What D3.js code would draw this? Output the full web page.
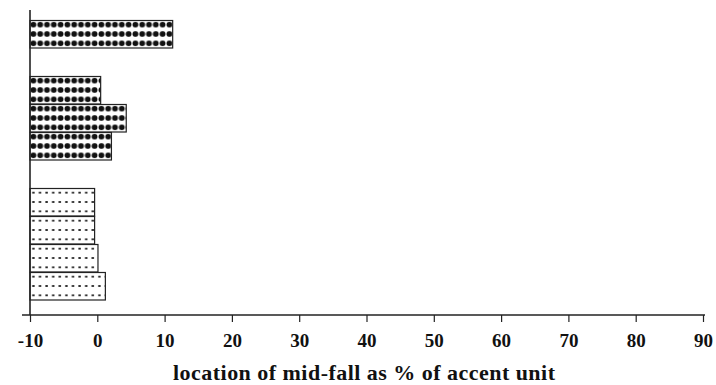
<!DOCTYPE html>
<html><head><meta charset="utf-8">
<script src="https://cdn.jsdelivr.net/npm/d3@7"></script>
<style>body{margin:0;background:#fff}
.lbl{font-family:"Liberation Serif","Times New Roman","DejaVu Serif",serif;font-weight:bold;fill:#111}
</style>
</head><body>
<svg id="chart" width="716" height="385"></svg>
<script>
// slots top->bottom; null = empty gap slot
const categories = ["a1","gap1","b1","b2","b3","gap2","c1","c2","c3","c4"];
const values = [11.2, null, 0.5, 4.3, 2.1, null, -0.4, -0.4, 0.1, 1.2];
const patterns = ["dense", null, "dense", "dense", "dense", null, "sparse", "sparse", "sparse", "sparse"];
const xTicks = [-10, 0, 10, 20, 30, 40, 50, 60, 70, 80, 90];
const xTitle = "location of mid-fall as % of accent unit";

const svg = d3.select("#chart");
const x = d3.scaleLinear().domain([-10, 90]).range([30, 703]);
const y = d3.scaleBand().domain(categories).range([20, 300]).padding(0);
const bh = y.bandwidth();

const defs = svg.append("defs");
const dense = defs.append("pattern").attr("id","dense").attr("patternUnits","userSpaceOnUse")
  .attr("x", 30).attr("y", 20).attr("width", 6.8).attr("height", bh/3);
dense.append("rect").attr("width",6.8).attr("height",bh/3).attr("fill","#fff");
dense.append("ellipse").attr("cx",3.4).attr("cy",bh/6).attr("rx",2.9).attr("ry",2.8).attr("fill","#111");
const sparse = defs.append("pattern").attr("id","sparse").attr("patternUnits","userSpaceOnUse")
  .attr("x", 30).attr("y", 20).attr("width", 6.6).attr("height", bh/3);
sparse.append("rect").attr("width",6.6).attr("height",bh/3).attr("fill","#fff");
sparse.append("rect").attr("x",2.2).attr("y",bh/6-0.9).attr("width",2.4).attr("height",1.8).attr("fill","#222");

const data = categories.map((c,i)=>({c, v: values[i], p: patterns[i]})).filter(d=>d.v!==null);
svg.append("g").selectAll("rect").data(data).join("rect")
  .attr("x", d=>x(Math.min(-10, d.v)))
  .attr("y", d=>y(d.c)+0.5)
  .attr("width", d=>x(d.v)-x(-10))
  .attr("height", bh-0.5)
  .attr("fill", d=>`url(#${d.p})`)
  .attr("stroke", "#222").attr("stroke-width", 1.2);

// y axis line
svg.append("line").attr("x1",30).attr("x2",30).attr("y1",10).attr("y2",315)
  .attr("stroke","#222").attr("stroke-width",1.6);

const xAxis = svg.append("g").attr("transform","translate(0,315)")
  .call(d3.axisBottom(x).tickValues(xTicks).tickSize(7).tickSizeOuter(0).tickFormat(d=>String(d)));
xAxis.attr("font-family",null).attr("font-size",null);
xAxis.select(".domain").remove();
xAxis.append("line").attr("x1",22).attr("x2",705).attr("y1",0).attr("y2",0)
  .attr("stroke","#222").attr("stroke-width",1.4);
xAxis.selectAll(".tick line").attr("stroke","#222").attr("stroke-width",1.2);
xAxis.selectAll(".tick text").attr("class","lbl").attr("dy",0).attr("y",32)
  .style("font-size","19px");

svg.append("text").attr("class","lbl").attr("x",364).attr("y",380).attr("text-anchor","middle")
  .style("font-size","22px").attr("textLength",382).attr("lengthAdjust","spacing").text(xTitle);
</script>
</body></html>
